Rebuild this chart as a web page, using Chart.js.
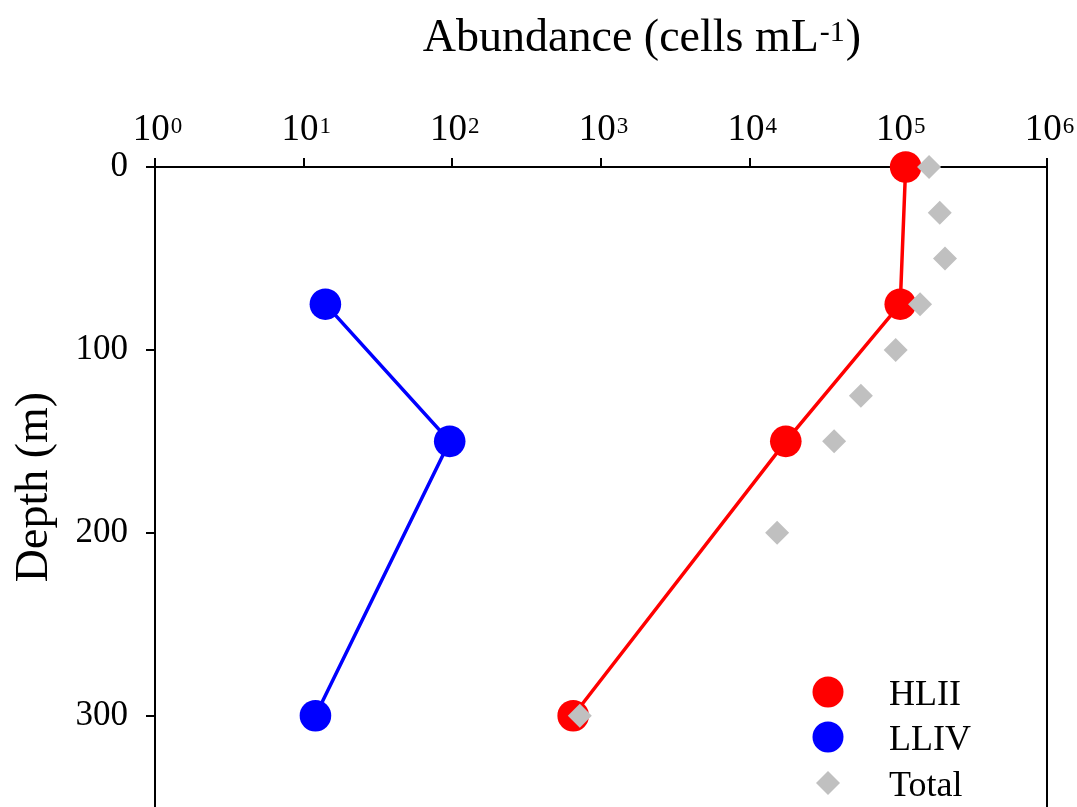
<!DOCTYPE html>
<html>
<head>
<meta charset="utf-8">
<script src="https://cdn.jsdelivr.net/npm/chart.js@4.4.1/dist/chart.umd.min.js"></script>
<style>
  html, body { margin: 0; padding: 0; background: #fff; overflow: hidden; }
  #wrap { width: 1077px; height: 807px; overflow: hidden; }
  canvas { display: block; }
</style>
</head>
<body>
<div id="wrap"><canvas id="depthChart" width="1077" height="823"></canvas></div>
<script>
// values
const hliiDepth = [0, 75, 150, 300];
const hliiAbundance = [112000, 103000, 17500, 650];
const llivDepth = [75, 150, 300];
const llivAbundance = [14, 96, 12];
const totalDepth = [0, 25, 50, 75, 100, 125, 150, 200, 300];
const totalAbundance = [161000, 190000, 206000, 140000, 96000, 56000, 37000, 15300, 720];

const xTicks = [1, 10, 100, 1000, 10000, 100000, 1000000];
const yTicks = [0, 100, 200, 300];

const serif = "'Liberation Serif', 'Times New Roman', serif";

const toPoints = (xs, ys) => xs.map((v, i) => ({ x: v, y: ys[i] }));

// draws the superscript labels, titles, legend and right frame line
const decorations = {
	id: "decorations",
	afterDraw(chart) {
		const ctx = chart.ctx;
		const xScale = chart.scales.x;
		const area = chart.chartArea;
		ctx.save();
		ctx.fillStyle = "#000";
		ctx.textBaseline = "alphabetic";
		ctx.textAlign = "left";

		// x tick labels 10^n
		xTicks.forEach((v) => {
			const px = xScale.getPixelForValue(v);
			const exp = String(Math.round(Math.log10(v)));
			ctx.font = `37px ${serif}`;
			const wBase = ctx.measureText("10").width;
			ctx.font = `23px ${serif}`;
			const wExp = ctx.measureText(exp).width;
			const x0 = px - (wBase + wExp) / 2 + 2;
			ctx.font = `37px ${serif}`;
			ctx.fillText("10", x0, 140);
			ctx.font = `23px ${serif}`;
			ctx.fillText(exp, x0 + wBase + 1, 133);
		});

		// top title with superscript
		const main = "Abundance (cells mL";
		ctx.font = `46px ${serif}`;
		const wMain = ctx.measureText(main).width;
		const wClose = ctx.measureText(")").width;
		ctx.font = `30px ${serif}`;
		const wSup = ctx.measureText("-1").width;
		const tx = 642 - (wMain + wSup + wClose + 2) / 2;
		ctx.font = `46px ${serif}`;
		ctx.fillText(main, tx, 51);
		ctx.font = `30px ${serif}`;
		ctx.fillText("-1", tx + wMain + 1, 41);
		ctx.font = `46px ${serif}`;
		ctx.fillText(")", tx + wMain + wSup + 2, 51);

		// y title
		ctx.save();
		ctx.translate(47, 487);
		ctx.rotate(-Math.PI / 2);
		ctx.textAlign = "center";
		ctx.font = `46px ${serif}`;
		ctx.fillText("Depth (m)", 0, 0);
		ctx.restore();

		// right frame line
		ctx.strokeStyle = "#000";
		ctx.lineWidth = 2;
		ctx.beginPath();
		ctx.moveTo(area.right, area.top - 1);
		ctx.lineTo(area.right, area.bottom);
		ctx.stroke();

		// legend
		const lx = 828;
		const items = [
			{ label: "HLII", color: "#ff0000", shape: "circle", y: 692 },
			{ label: "LLIV", color: "#0000ff", shape: "circle", y: 737 },
			{ label: "Total", color: "#c0c0c0", shape: "diamond", y: 783 },
		];
		items.forEach((it) => {
			ctx.fillStyle = it.color;
			ctx.beginPath();
			if (it.shape === "circle") {
				ctx.arc(lx, it.y, 15.5, 0, Math.PI * 2);
			} else {
				ctx.moveTo(lx - 12, it.y);
				ctx.lineTo(lx, it.y - 12);
				ctx.lineTo(lx + 12, it.y);
				ctx.lineTo(lx, it.y + 12);
				ctx.closePath();
			}
			ctx.fill();
			ctx.fillStyle = "#000";
			ctx.font = `36px ${serif}`;
			ctx.fillText(it.label, 889, it.y + 13);
		});
		ctx.restore();
	},
};

new Chart(document.getElementById("depthChart"), {
	type: "scatter",
	data: {
		datasets: [
			{
				label: "Total",
				data: toPoints(totalAbundance, totalDepth),
				showLine: false,
				pointStyle: "rectRot",
				pointRadius: 12,
				backgroundColor: "#c0c0c0",
				borderWidth: 0,
				order: 0,
			},
			{
				label: "HLII",
				data: toPoints(hliiAbundance, hliiDepth),
				showLine: true,
				borderColor: "#ff0000",
				backgroundColor: "#ff0000",
				borderWidth: 3.5,
				pointRadius: 15.8,
				pointBorderWidth: 0,
				order: 1,
			},
			{
				label: "LLIV",
				data: toPoints(llivAbundance, llivDepth),
				showLine: true,
				borderColor: "#0000ff",
				backgroundColor: "#0000ff",
				borderWidth: 3.5,
				pointRadius: 15.8,
				pointBorderWidth: 0,
				order: 2,
			},
		],
	},
	options: {
		responsive: false,
		animation: false,
		clip: false,
		layout: { padding: { top: 0, right: 30, bottom: 0, left: 0 } },
		plugins: {
			legend: { display: false },
			tooltip: { enabled: false },
		},
		scales: {
			x: {
				type: "logarithmic",
				position: "top",
				min: 1,
				max: 1000000,
				afterBuildTicks: (s) => {
					s.ticks = xTicks.map((v) => ({ value: v }));
				},
				afterFit: (s) => {
					s.height = 167;
					s.paddingLeft = 0;
					s.paddingRight = 0;
				},
				ticks: { display: false },
				grid: {
					drawOnChartArea: false,
					drawTicks: true,
					tickLength: 9,
					color: "#000",
					lineWidth: 2,
				},
				border: { color: "#000", width: 2 },
			},
			y: {
				type: "linear",
				reverse: true,
				min: 0,
				max: 350,
				afterBuildTicks: (s) => {
					s.ticks = yTicks.map((v) => ({ value: v }));
				},
				afterFit: (s) => {
					s.width = 155;
					s.paddingTop = 0;
					s.paddingBottom = 0;
				},
				ticks: {
					color: "#000",
					padding: 18,
					font: { family: serif, size: 35 },
				},
				grid: {
					drawOnChartArea: false,
					drawTicks: true,
					tickLength: 9,
					color: "#000",
					lineWidth: 2,
				},
				border: { color: "#000", width: 2 },
			},
		},
	},
	plugins: [decorations],
});
</script>
</body>
</html>
